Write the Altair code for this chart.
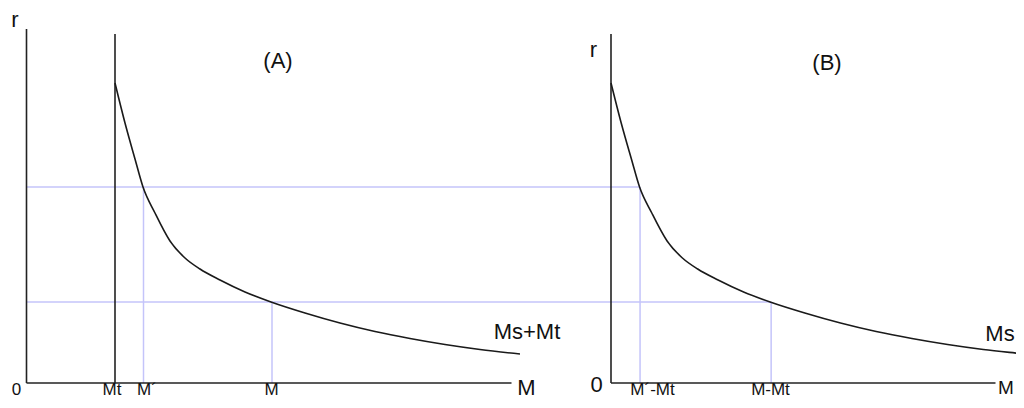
import altair as alt
import pandas as pd

# ---- data (diagram units: 1 unit ~ 1 px of the reference) ----
MT = 88.5          # transaction demand Mt
M1 = 117.0         # M'
M2 = 245.5         # M
R1 = 196.0         # upper interest rate
R2 = 81.0          # lower interest rate
B0 = 584.5         # origin of panel (B)
BK = 1.02          # horizontal stretch of panel (B)

# speculative demand curve: quantity above Mt (u) and interest rate (r)
curve_u = [0, 10, 20, 28, 40, 55, 70, 85, 105, 130, 156, 190, 225, 260, 295, 330, 365, 405, 412]
curve_r = [300, 260, 224, 196, 170, 142, 125, 114, 103, 91, 81, 70, 60, 51.5, 44.5, 38.5, 33.5, 29, 28.2]

def bx(u):
    return B0 + u * BK

# curves
rows = []
for i, (u, r) in enumerate(zip(curve_u, curve_r)):
    if u <= 405:
        rows.append({"seg": "A", "idx": i, "x": MT + u, "r": r})
    rows.append({"seg": "B", "idx": i, "x": bx(u), "r": r})
curves = pd.DataFrame(rows)

# black lines (axes + Mt)
black = pd.DataFrame([
    {"x": 0, "x2": 0, "y": 0, "y2": 354},
    {"x": 0, "x2": 485, "y": 0, "y2": 0},
    {"x": MT, "x2": MT, "y": 0, "y2": 349},
    {"x": B0, "x2": B0, "y": 0, "y2": 349},
    {"x": B0, "x2": 969, "y": 0, "y2": 0},
])

# blue guide lines
blue = pd.DataFrame([
    {"x": 0, "x2": bx(M1 - MT), "y": R1, "y2": R1},
    {"x": 0, "x2": bx(M2 - MT), "y": R2, "y2": R2},
    {"x": M1, "x2": M1, "y": 0, "y2": R1},
    {"x": M2, "x2": M2, "y": 0, "y2": R2},
    {"x": bx(M1 - MT), "x2": bx(M1 - MT), "y": 0, "y2": R1},
    {"x": bx(M2 - MT), "x2": bx(M2 - MT), "y": 0, "y2": R2},
])

# labels
label_text = ["r", "(A)", "Ms+Mt", "M", "r", "(B)", "Ms", "0"]
label_x = [-11.5, 251.5, 500.5, 500, 567, 800.5, 973.5, 570]
label_r = [363, 322, 51, -5, 333.5, 320, 49, -2]
labels = pd.DataFrame({"t": label_text, "x": label_x, "r": label_r})

edge = pd.DataFrame({"t": ["M"], "x": [971.5], "r": [-5]})

bottom_text = ["0", "Mt", "M´", "M", "M´-Mt", "M-Mt"]
bottom_x = [-10, 85.5, 120.5, 245, 626, 744]
bottom = pd.DataFrame({"t": bottom_text, "x": bottom_x, "r": [-16] * len(bottom_text)})

xs = alt.Scale(domain=[-18.5, 989.5], nice=False, zero=False)
ys = alt.Scale(domain=[-17, 375], nice=False, zero=False)
FONT = "Liberation Sans"

blue_layer = alt.Chart(blue).mark_rule(color="#c4c4fa", strokeWidth=1.5).encode(
    x=alt.X("x:Q", scale=xs, axis=None), x2="x2:Q",
    y=alt.Y("y:Q", scale=ys, axis=None), y2="y2:Q")

black_layer = alt.Chart(black).mark_rule(color="#222222", strokeWidth=1.6).encode(
    x=alt.X("x:Q", scale=xs, axis=None), x2="x2:Q",
    y=alt.Y("y:Q", scale=ys, axis=None), y2="y2:Q")

curve_layer = alt.Chart(curves).mark_line(color="#1a1a1a", strokeWidth=1.6, interpolate="monotone").encode(
    x=alt.X("x:Q", scale=xs, axis=None),
    y=alt.Y("r:Q", scale=ys, axis=None),
    detail="seg:N", order="idx:Q")

label_layer = alt.Chart(labels).mark_text(font=FONT, fontSize=22, color="#111111",
                                          align="center", baseline="middle").encode(
    x=alt.X("x:Q", scale=xs, axis=None), y=alt.Y("r:Q", scale=ys, axis=None), text="t:N")

edge_layer = alt.Chart(edge).mark_text(font=FONT, fontSize=19, color="#111111",
                                       align="left", baseline="middle").encode(
    x=alt.X("x:Q", scale=xs, axis=None), y=alt.Y("r:Q", scale=ys, axis=None), text="t:N")

bottom_layer = alt.Chart(bottom).mark_text(font=FONT, fontSize=17, color="#111111",
                                           align="center", baseline="bottom").encode(
    x=alt.X("x:Q", scale=xs, axis=None), y=alt.Y("r:Q", scale=ys, axis=None), text="t:N")

chart = alt.layer(blue_layer, black_layer, curve_layer, label_layer, edge_layer, bottom_layer).properties(
    width=1008, height=392, padding=0,
    autosize=alt.AutoSizeParams(type="none"),
    background="white",
).configure_view(stroke=None)

chart.save("out.html", embed_options={"renderer": "svg", "actions": False})
